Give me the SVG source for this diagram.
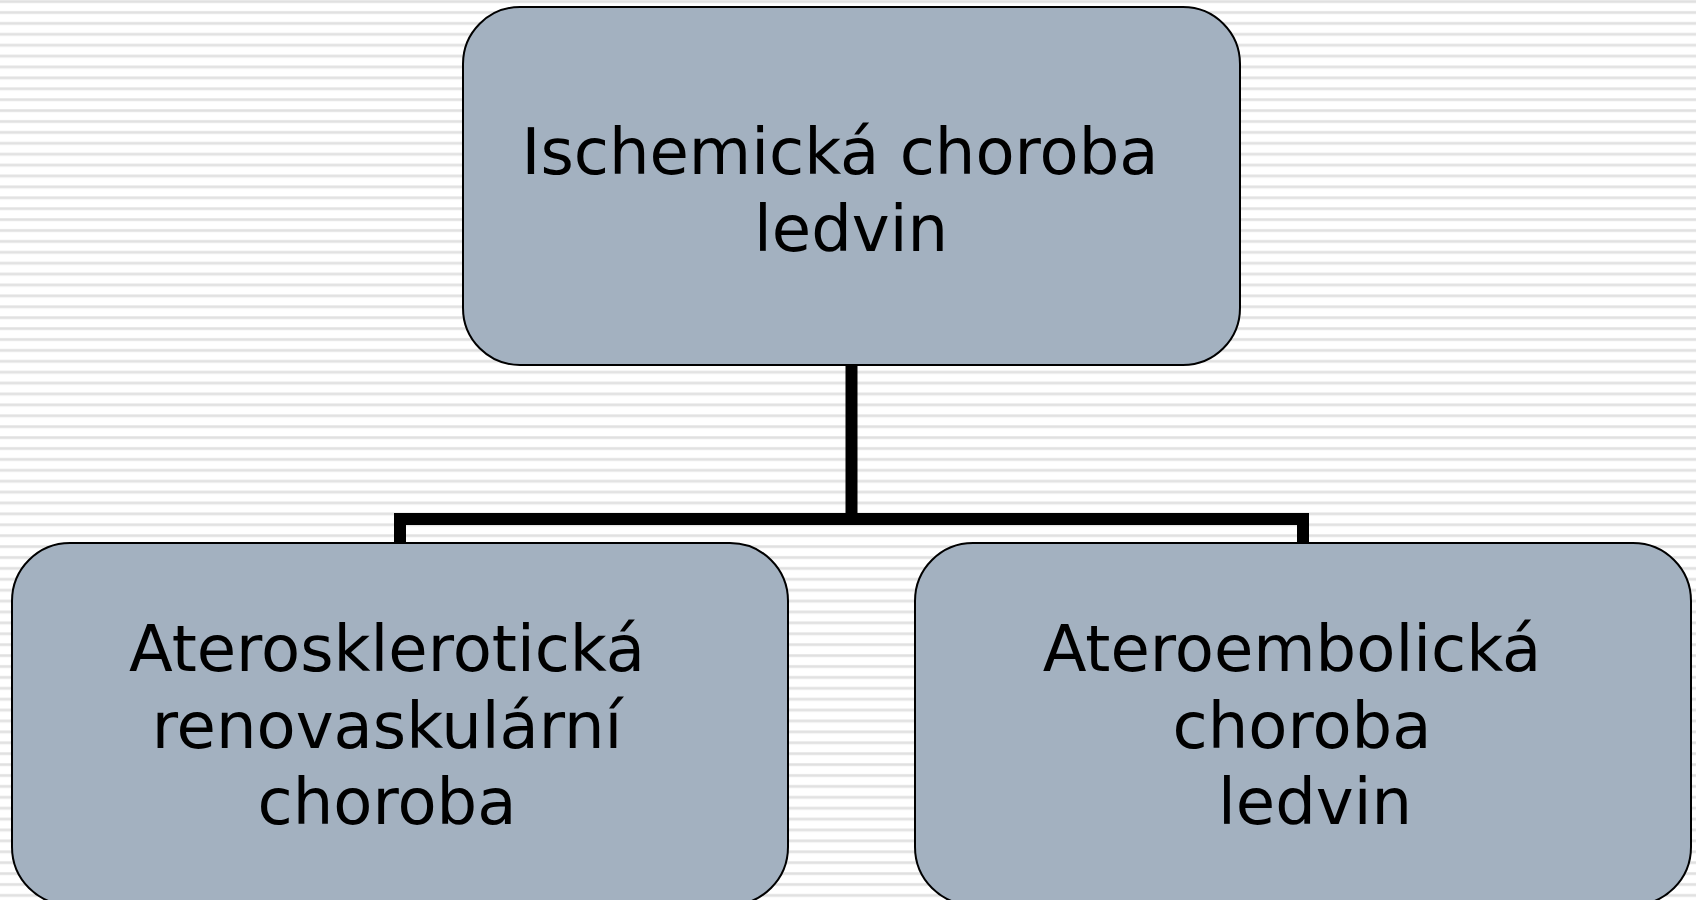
<svg xmlns="http://www.w3.org/2000/svg" width="1696" height="900" viewBox="0 0 1696 900">
  <defs>
    <pattern id="stripes" patternUnits="userSpaceOnUse" x="0" y="0" width="20" height="10.9">
      <rect x="0" y="0" width="20" height="10.9" fill="#ffffff"/>
      <rect x="0" y="0" width="20" height="3.2" fill="#ebebeb"/>
      <rect x="0" y="0.8" width="20" height="1.6" fill="#e0e0e0"/>
    </pattern>
  </defs>
  <style>
    .box { fill: #a3b1c0; stroke: #000000; stroke-width: 2; }
    .lbl { font-family: "DejaVu Sans", Verdana, sans-serif; font-size: 64px; fill: #000000; text-anchor: middle; }
    .conn { fill: none; stroke: #000000; stroke-width: 12; stroke-linejoin: miter; stroke-linecap: butt; }
  </style>
  <rect x="0" y="0" width="1696" height="900" fill="url(#stripes)"/>
  <g id="connectors">
    <path class="conn" d="M851.5,365 V519"/>
    <path class="conn" d="M400,543 V519 H1303 V543"/>
  </g>
  <g id="node-top">
    <rect class="box" x="463" y="7" width="777" height="358" rx="57" ry="57"/>
    <text class="lbl" x="840" y="174">Ischemická choroba</text>
    <text class="lbl" x="851" y="251">ledvin</text>
  </g>
  <g id="node-left">
    <rect class="box" x="12" y="543" width="776" height="362" rx="58" ry="58"/>
    <text class="lbl" x="387" y="671">Aterosklerotická</text>
    <text class="lbl" x="387" y="748">renovaskulární</text>
    <text class="lbl" x="387" y="824">choroba</text>
  </g>
  <g id="node-right">
    <rect class="box" x="915" y="543" width="776" height="362" rx="58" ry="58"/>
    <text class="lbl" x="1292" y="671">Ateroembolická</text>
    <text class="lbl" x="1302" y="748">choroba</text>
    <text class="lbl" x="1315" y="824">ledvin</text>
  </g>
</svg>
